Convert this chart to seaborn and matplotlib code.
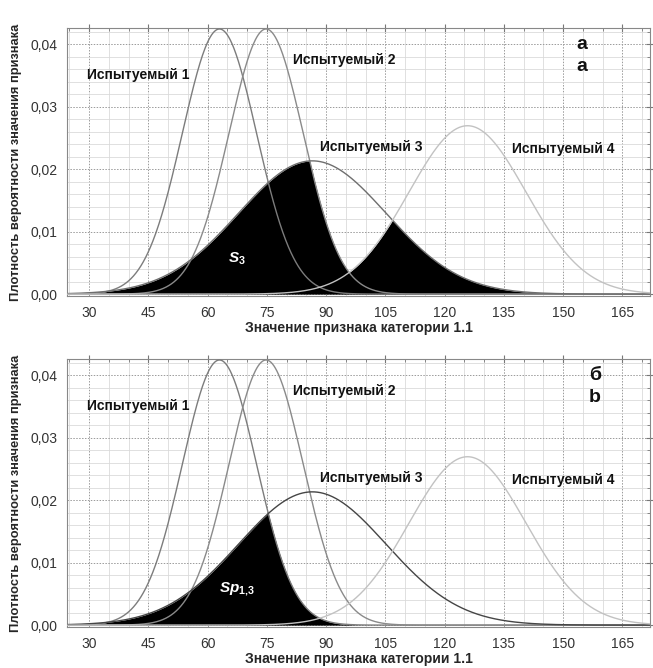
import numpy as np
import pandas as pd
import matplotlib.pyplot as plt
import seaborn as sns
from matplotlib.ticker import MultipleLocator, FuncFormatter

# normal distributions (peak position, spread)
subjects = ["Испытуемый 1", "Испытуемый 2", "Испытуемый 3", "Испытуемый 4"]
means = [63.0, 74.8, 86.5, 125.8]
sds = [9.4, 9.4, 18.7, 14.8]
colors_a = ["#7c7c7c", "#8a8a8a", "#6e6e6e", "#c2c2c2"]
colors_b = ["#7c7c7c", "#8a8a8a", "#454545", "#c2c2c2"]

label_pos = [(29.5, 0.0351), (81.6, 0.0374), (88.5, 0.0235), (137.0, 0.0233)]
x_ticks = [30, 45, 60, 75, 90, 105, 120, 135, 150, 165]

x = np.linspace(24.5, 172, 1200)
curves = {}
for name, m, s in zip(subjects, means, sds):
    curves[name] = np.exp(-0.5 * ((x - m) / s) ** 2) / (s * np.sqrt(2 * np.pi))
df = pd.DataFrame({"x": x, **curves}).melt(id_vars="x", var_name="subject", value_name="density")

sns.set_style("white")
plt.rcParams['font.family'] = ['Liberation Sans', 'DejaVu Sans']
plt.rcParams['mathtext.fontset'] = 'custom'
plt.rcParams['mathtext.it'] = 'Liberation Sans:italic:bold'
plt.rcParams['mathtext.rm'] = 'Liberation Sans:bold'

fig = plt.figure(figsize=(6.53, 6.68), dpi=100)
ax_a = fig.add_axes([67 / 653, 1 - 296 / 668, 583 / 653, 268 / 668])
ax_b = fig.add_axes([67 / 653, 1 - 627 / 668, 583 / 653, 268 / 668])

c1, c2, c3, c4 = [curves[n] for n in subjects]
fills = {
    "a": np.minimum(c3, np.maximum(np.maximum(c1, c2), c4)),
    "b": np.minimum(c1, c3),
}

panels = [(ax_a, "a", colors_a, "а\na", 153.3, r"$S_{3}$"),
          (ax_b, "b", colors_b, "б\nb", 156.5, r"$Sp_{1{,}3}$")]

for ax, key, cols, tag, tag_x, sym in panels:
    ax.fill_between(x, 0, fills[key], color="black", lw=0, zorder=2)
    sns.lineplot(data=df, x="x", y="density", hue="subject", palette=cols,
                 ax=ax, legend=False, lw=1.0, zorder=3)

    ax.set_xlim(24.4, 172)
    ax.set_ylim(-0.0003, 0.0426)
    ax.set_xticks(x_ticks)
    ax.xaxis.set_minor_locator(MultipleLocator(5))
    ax.yaxis.set_major_locator(MultipleLocator(0.01))
    ax.yaxis.set_minor_locator(MultipleLocator(0.002))
    ax.yaxis.set_major_formatter(FuncFormatter(lambda v, p: f"{v:.2f}".replace(".", ",")))
    ax.grid(which="minor", color="#dadada", lw=0.6, zorder=0)
    ax.grid(which="major", color="#9a9a9a", lw=0.7, ls=(0, (1.5, 1.5)), zorder=0)
    ax.set_axisbelow(True)
    ax.tick_params(which="both", top=True, right=True, color="#777777",
                   labelsize=10, labelcolor="#333333")
    ax.tick_params(which="major", direction="inout", length=6, pad=4)
    ax.tick_params(which="minor", direction="in", length=2.5)
    for sp in ax.spines.values():
        sp.set_color("#888888")
        sp.set_linewidth(0.8)

    ax.set_xlabel("Значение признака категории 1.1", fontsize=10, fontweight="bold", labelpad=1)
    ax.set_ylabel("Плотность вероятности значения признака", fontsize=9.3,
                  fontweight="bold", labelpad=6)

    for name, (lx, ly) in zip(subjects, label_pos):
        ax.text(lx, ly, name, fontsize=10, fontweight="bold", va="center",
                color="#111111", zorder=4)
    ax.text(tag_x, 0.0413, tag, fontsize=14, fontweight="bold", va="top",
            linespacing=1.35, color="#111111", zorder=4)
    ax.text(67.5, 0.0057, sym, fontsize=11, color="white", ha="center",
            va="center", zorder=4)

fig.savefig("out.png", dpi=100)
